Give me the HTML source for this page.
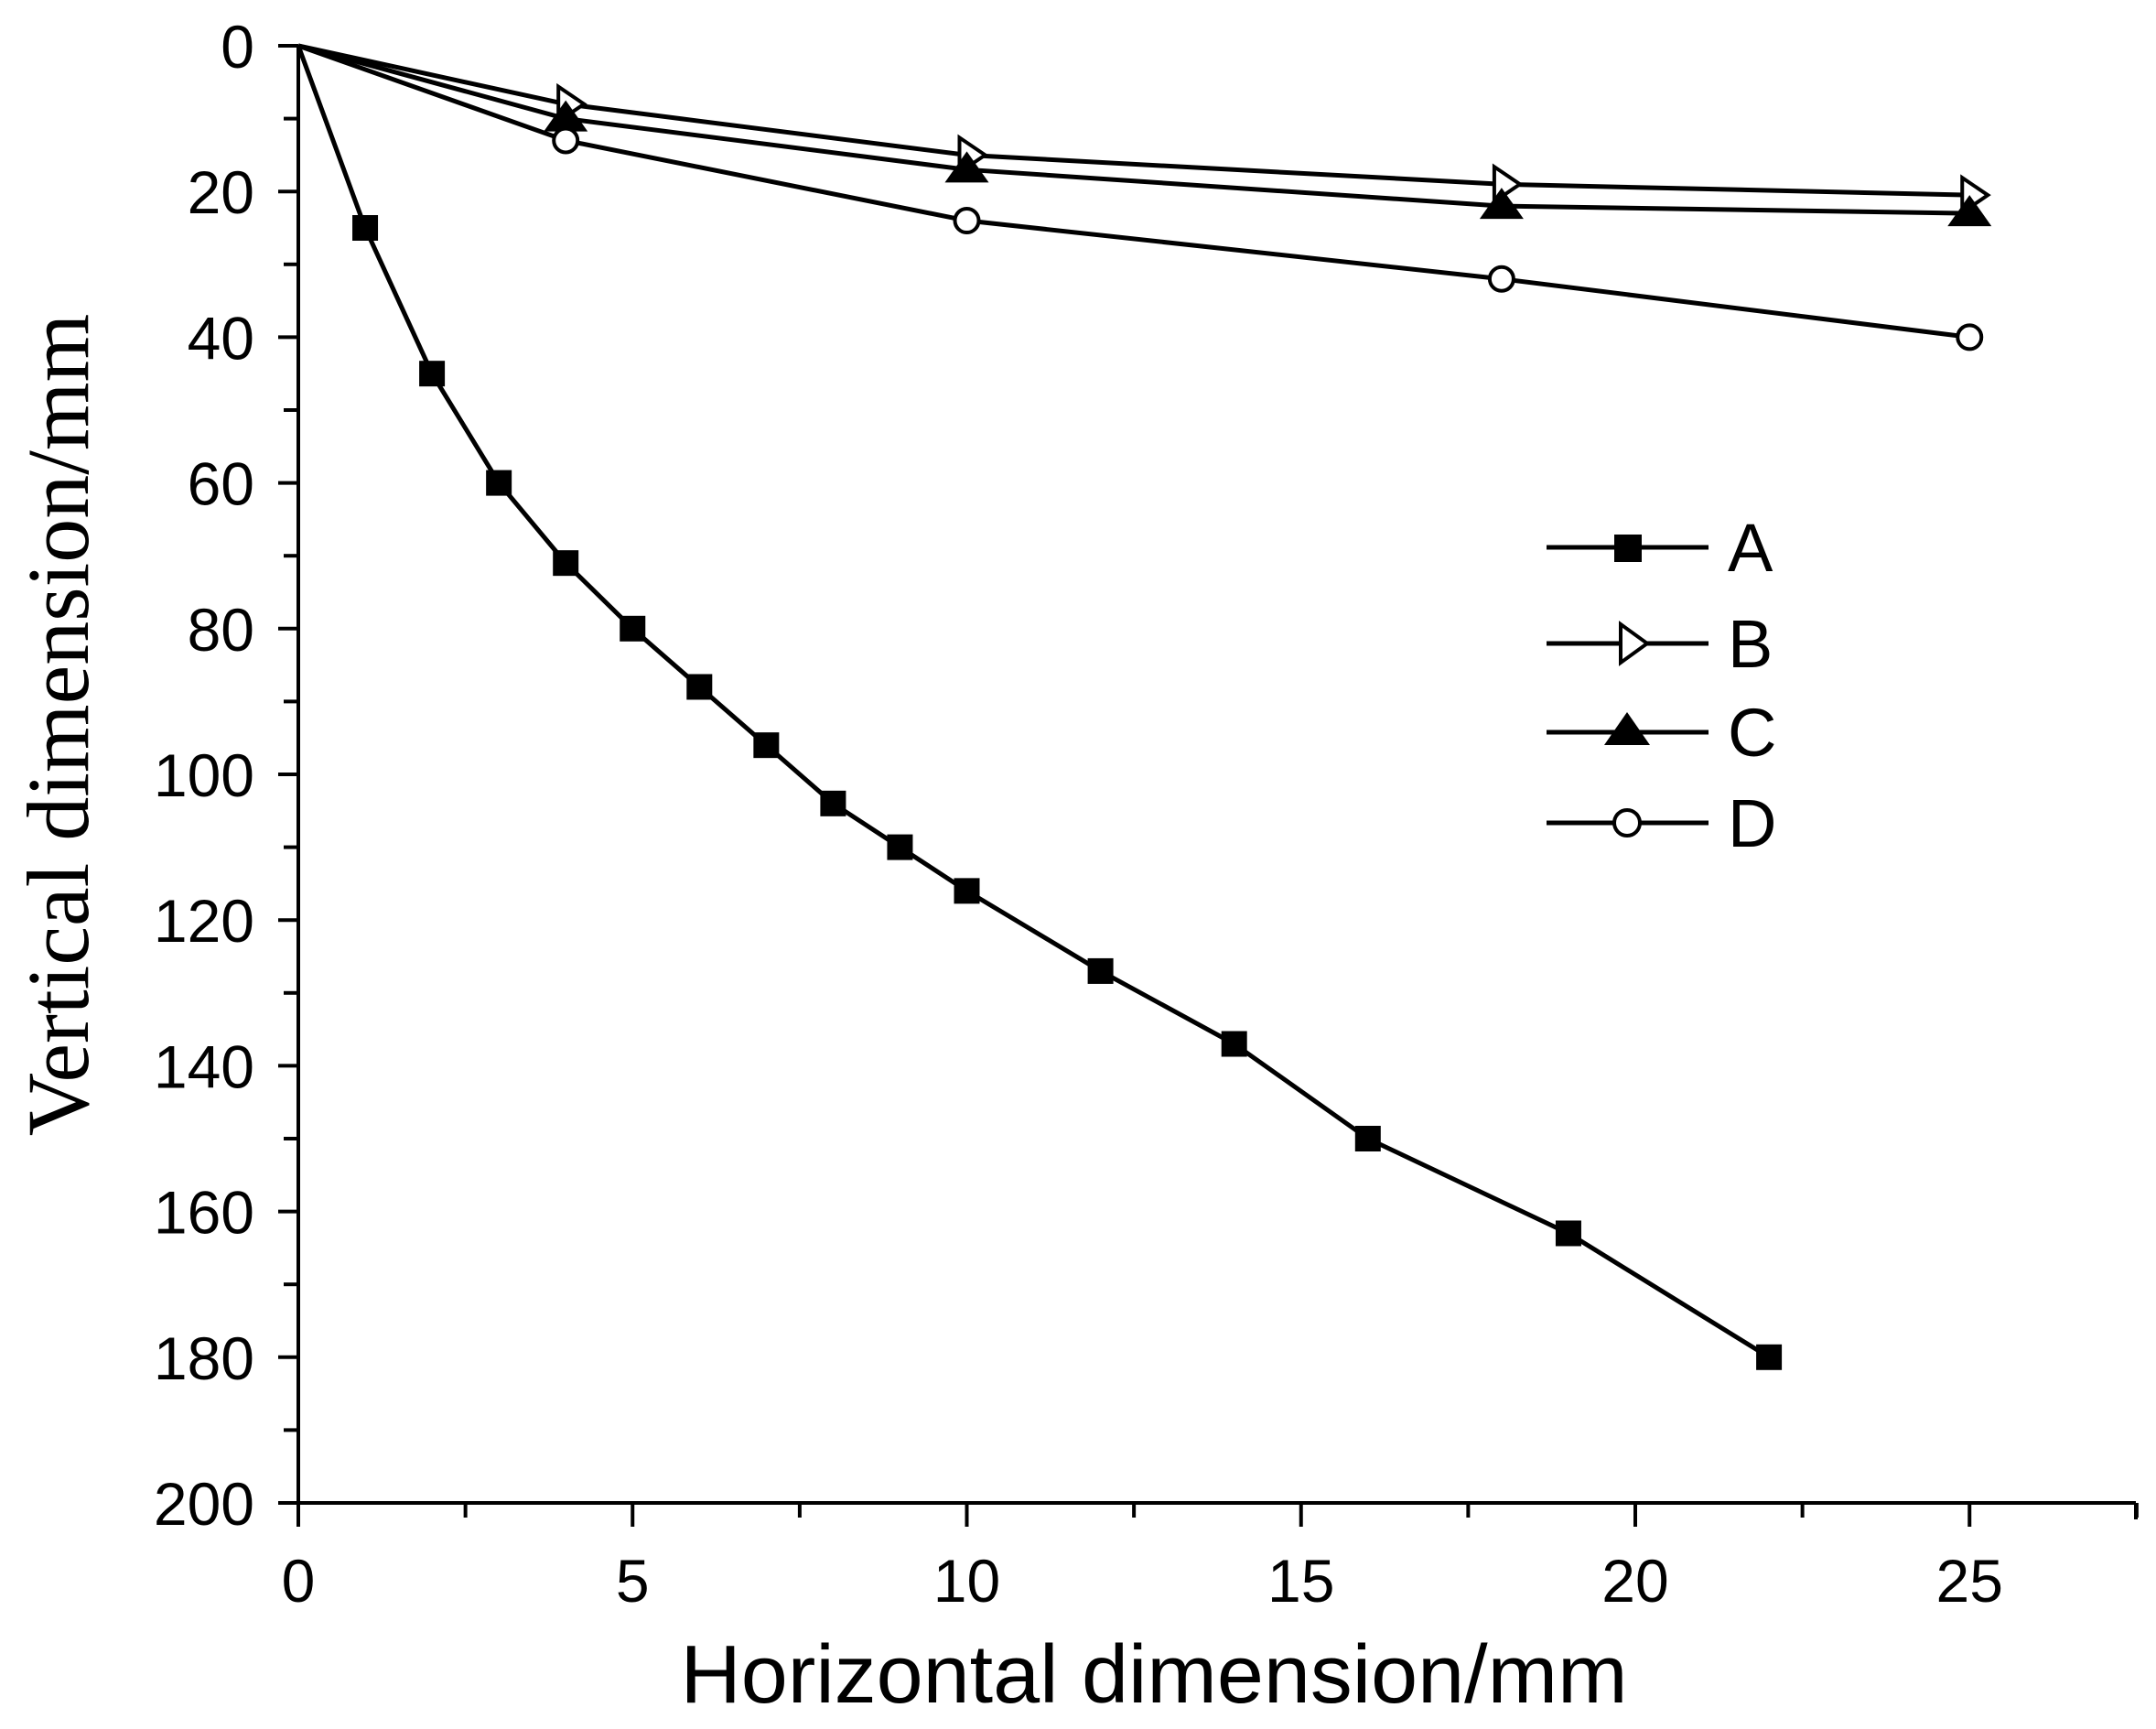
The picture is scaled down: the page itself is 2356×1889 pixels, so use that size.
<!DOCTYPE html>
<html><head><style>html,body{margin:0;padding:0;background:#fff}svg{display:block}</style></head><body>
<svg width="2356" height="1889" viewBox="0 0 2356 1889" xmlns="http://www.w3.org/2000/svg">
<g stroke="#000" stroke-width="4" fill="none">
<line x1="326" y1="50" x2="326" y2="1642"/>
<line x1="326" y1="1642" x2="2334" y2="1642"/>
</g>
<g id="yt" stroke="#000" stroke-width="4"></g>
<g id="xt" stroke="#000" stroke-width="4"></g>
<g id="ylab" font-family="Liberation Sans, sans-serif" font-size="66" text-anchor="end"></g>
<g id="xlab" font-family="Liberation Sans, sans-serif" font-size="66" text-anchor="middle"></g>
<g id="series"></g>
<text x="1261" y="1860" font-family="Liberation Sans, sans-serif" font-size="90" text-anchor="middle" textLength="1035" lengthAdjust="spacingAndGlyphs">Horizontal dimension/mm</text>
<text transform="translate(96,792) rotate(-90)" font-family="Liberation Serif, serif" font-size="96" text-anchor="middle">Vertical dimension/mm</text>
<g stroke="#000" stroke-width="5">
<line x1="1690" y1="598" x2="1867" y2="598"/>
<line x1="1690" y1="703" x2="1867" y2="703"/>
<line x1="1690" y1="800" x2="1867" y2="800"/>
<line x1="1690" y1="899" x2="1867" y2="899"/>
</g>
<rect x="1764" y="584" width="30" height="30" fill="#000"/>
<polygon points="1771,682 1800,703 1771,724" fill="#fff" stroke="#000" stroke-width="4"/>
<polygon points="1778,778 1803,814 1753,814" fill="#000"/>
<circle cx="1778" cy="899" r="14" fill="#fff" stroke="#000" stroke-width="4"/>
<g font-family="Liberation Sans, sans-serif" font-size="74">
<text x="1888" y="624">A</text><text x="1888" y="729">B</text><text x="1888" y="826">C</text><text x="1888" y="925">D</text>
</g>
</svg>
<script>
const NS="http://www.w3.org/2000/svg";
const X=v=>326+73.05*v, Y=v=>50+7.96*v;
function el(p,t,a,txt){const e=document.createElementNS(NS,t);for(const k in a)e.setAttribute(k,a[k]);if(txt!==undefined)e.textContent=txt;document.getElementById(p).appendChild(e);return e;}
for(let v=0;v<=200;v+=10){const y=Y(v);const maj=v%20==0;el('yt','line',{x1:maj?304:310,y1:y,x2:326,y2:y});if(maj)el('ylab','text',{x:278,y:y+24},String(v));}
for(let v=0;v<=27.5;v+=2.5){const x=X(v);const maj=v%5==0;el('xt','line',{x1:x,y1:1642,x2:x,y2:maj?1668:1658});if(maj)el('xlab','text',{x:x,y:1750},String(v));}
el('xt','line',{x1:2334,y1:1642,x2:2334,y2:1660});
const A=[[0,0],[1,25],[2,45],[3,60],[4,71],[5,80],[6,88],[7,96],[8,104],[9,110],[10,116],[12,127],[14,137],[16,150],[19,163],[22,180]];
const B=[[0,0],[4,8],[10,15],[18,19],[25,20.5]];
const C=[[0,0],[4,10],[10,17],[18,22],[25,23]];
const D=[[0,0],[4,13],[10,24],[18,32],[25,40]];
function line(d){el('series','polyline',{points:d.map(p=>X(p[0])+','+Y(p[1])).join(' '),fill:'none',stroke:'#000','stroke-width':5});}
[A,B,C,D].forEach(line);
A.slice(1).forEach(p=>el('series','rect',{x:X(p[0])-14,y:Y(p[1])-14,width:28,height:28,fill:'#000'}));
B.slice(1).forEach(p=>{const x=X(p[0]),y=Y(p[1]);el('series','polygon',{points:`${x-8},${y-19} ${x+20},${y} ${x-8},${y+19}`,fill:'#fff',stroke:'#000','stroke-width':4});});
C.slice(1).forEach(p=>{const x=X(p[0]),y=Y(p[1]);el('series','polygon',{points:`${x},${y-20} ${x+24},${y+14} ${x-24},${y+14}`,fill:'#000'});});
D.slice(1).forEach(p=>el('series','circle',{cx:X(p[0]),cy:Y(p[1]),r:13,fill:'#fff',stroke:'#000','stroke-width':4}));
</script>
</body></html>
